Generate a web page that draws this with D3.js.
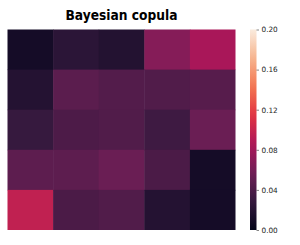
<!DOCTYPE html>
<html>
<head>
<meta charset="utf-8">
<script src="https://cdn.jsdelivr.net/npm/d3@7"></script>
<style>
  body { margin: 0; background: #fff; }
  text { font-family: "DejaVu Sans", sans-serif; }
</style>
</head>
<body>
<div class="svg"></div>
<script>
// heatmap values, row by row (top to bottom)
const rows = [0, 1, 2, 3, 4];
const cols = [0, 1, 2, 3, 4];
const values = [
  [0.010, 0.023, 0.018, 0.067, 0.084],
  [0.019, 0.047, 0.043, 0.042, 0.045],
  [0.029, 0.040, 0.042, 0.033, 0.054],
  [0.048, 0.048, 0.054, 0.039, 0.010],
  [0.096, 0.039, 0.042, 0.019, 0.010]
];
const cbarTicks = [0.00, 0.04, 0.08, 0.12, 0.16, 0.20];
const title = "Bayesian copula";

// rocket colormap stops
const rocket = ["#03051a", "#35193e", "#701f57", "#ad1759", "#e13342", "#f37651", "#f6b48f", "#faebdd"];
const rocketPos = [0, 1/7, 2/7, 3/7, 4/7, 5/7, 6/7, 1];

const width = 300, height = 245;
const mLeft = 7.5, mRight = 235.5, mTop = 29.5, mBottom = 230;

let svg = d3.select('.svg').append("svg").attr("width", width).attr("height", height);

let color = d3.scaleLinear()
  .domain(rocketPos.map(p => p * 0.2))
  .range(rocket)
  .clamp(true);

let scaleX = d3.scaleBand().domain(cols).range([mLeft, mRight]);
let scaleY = d3.scaleBand().domain(rows).range([mTop, mBottom]);

let cells = [];
values.forEach((r, i) => r.forEach((v, j) => cells.push({row: rows[i], col: cols[j], v: v})));

svg.append('g').selectAll('rect').data(cells).enter().append('rect')
  .attr('x', d => scaleX(d.col))
  .attr('y', d => scaleY(d.row))
  .attr('width', d => scaleX.bandwidth() + (d.col < 4 ? 0.5 : 0))
  .attr('height', d => scaleY.bandwidth() + (d.row < 4 ? 0.5 : 0))
  .attr('fill', d => color(d.v));

// title, slightly condensed like the original
svg.append('text')
  .attr('transform', 'translate(' + ((mLeft + mRight) / 2) + ',20) scale(0.93,1)')
  .attr('text-anchor', 'middle')
  .style('font-size', '13.2px')
  .style('font-weight', 'bold')
  .text(title);

// colorbar
const cbX = 250, cbW = 6.5;
let scaleC = d3.scaleLinear().domain([0, 0.2]).range([mBottom, mTop]);

let grad = svg.append('defs').append('linearGradient')
  .attr('id', 'cb').attr('x1', 0).attr('y1', 1).attr('x2', 0).attr('y2', 0);
d3.range(0, 1.0001, 0.05).forEach(t => {
  grad.append('stop').attr('offset', t).attr('stop-color', color(t * 0.2));
});

svg.append('rect')
  .attr('x', cbX).attr('y', mTop)
  .attr('width', cbW).attr('height', mBottom - mTop)
  .attr('fill', 'url(#cb)');

let axisC = d3.axisRight(scaleC).tickValues(cbarTicks).tickFormat(d3.format('.2f'))
  .tickSize(2.5).tickPadding(2.5);
let ga = svg.append('g').attr('transform', 'translate(' + (cbX + cbW) + ',0)').call(axisC);
ga.select('.domain').remove();
ga.selectAll('line').attr('stroke', '#333').attr('stroke-width', 0.6);
ga.selectAll('text').style('font-size', '7.3px').attr('fill', '#222')
  .style('font-family', '"DejaVu Sans", sans-serif');
</script>
</body>
</html>
